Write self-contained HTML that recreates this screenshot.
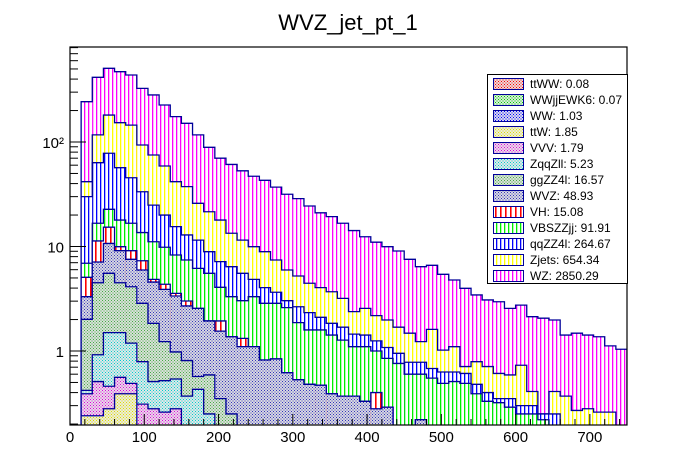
<!DOCTYPE html>
<html><head><meta charset="utf-8"><style>
html,body{margin:0;padding:0;background:#fff;}
svg{display:block;font-family:"Liberation Sans",Arial,sans-serif;}
</style></head><body>
<svg id="c" width="696" height="472" viewBox="0 0 696 472" xmlns="http://www.w3.org/2000/svg">
<defs>
<pattern id="pWZ" patternUnits="userSpaceOnUse" width="4" height="4"><rect width="4" height="4" fill="#fff"/><rect x="0" width="1.3" height="4" fill="#ff00ff"/></pattern>
<pattern id="pZj" patternUnits="userSpaceOnUse" width="4" height="4"><rect width="4" height="4" fill="#fff"/><rect x="0" width="1.3" height="4" fill="#ffff00"/></pattern>
<pattern id="pqq" patternUnits="userSpaceOnUse" width="4" height="4"><rect width="4" height="4" fill="#fff"/><rect x="0" width="1.3" height="4" fill="#0000ff"/></pattern>
<pattern id="pVBS" patternUnits="userSpaceOnUse" width="4" height="4"><rect width="4" height="4" fill="#fff"/><rect x="0" width="1.3" height="4" fill="#00ee00"/></pattern>
<pattern id="pVH" patternUnits="userSpaceOnUse" width="5" height="4"><rect width="5" height="4" fill="#fff"/><rect x="0" width="1.6" height="4" fill="#ff0000"/></pattern>
<pattern id="cWVZ" patternUnits="userSpaceOnUse" width="3" height="3"><rect width="3" height="3" fill="#d8d8e0"/><rect width="1" height="1" fill="#3333bb"/><rect x="1.5" y="1.5" width="1" height="1" fill="#3333bb"/></pattern>
<pattern id="cgg" patternUnits="userSpaceOnUse" width="3" height="3"><rect width="3" height="3" fill="#d8e0d8"/><rect width="1" height="1" fill="#44aa44"/><rect x="1.5" y="1.5" width="1" height="1" fill="#44aa44"/></pattern>
<pattern id="cZqq" patternUnits="userSpaceOnUse" width="3" height="3"><rect width="3" height="3" fill="#e0e8e8"/><rect width="1" height="1" fill="#00cccc"/><rect x="1.5" y="1.5" width="1" height="1" fill="#00cccc"/></pattern>
<pattern id="cVVV" patternUnits="userSpaceOnUse" width="3" height="3"><rect width="3" height="3" fill="#e8dce8"/><rect width="1" height="1" fill="#dd00dd"/><rect x="1.5" y="1.5" width="1" height="1" fill="#dd00dd"/></pattern>
<pattern id="cttW" patternUnits="userSpaceOnUse" width="3" height="3"><rect width="3" height="3" fill="#ececd8"/><rect width="1" height="1" fill="#dddd00"/><rect x="1.5" y="1.5" width="1" height="1" fill="#dddd00"/></pattern>
<pattern id="cWW" patternUnits="userSpaceOnUse" width="3" height="3"><rect width="3" height="3" fill="#d8d8ec"/><rect width="1" height="1" fill="#0000ff"/><rect x="1.5" y="1.5" width="1" height="1" fill="#0000ff"/></pattern>
<pattern id="cWWjj" patternUnits="userSpaceOnUse" width="3" height="3"><rect width="3" height="3" fill="#d8ecd8"/><rect width="1" height="1" fill="#00cc00"/><rect x="1.5" y="1.5" width="1" height="1" fill="#00cc00"/></pattern>
<pattern id="cttWW" patternUnits="userSpaceOnUse" width="3" height="3"><rect width="3" height="3" fill="#ecd8d8"/><rect width="1" height="1" fill="#ff0000"/><rect x="1.5" y="1.5" width="1" height="1" fill="#ff0000"/></pattern>
<clipPath id="plotClip"><rect x="70" y="47" width="557" height="378"/></clipPath>
</defs>
<text x="348" y="30" font-size="22" text-anchor="middle">WVZ_jet_pt_1</text>
<g id="bars" clip-path="url(#plotClip)"></g>
<rect x="70" y="47" width="557" height="378" fill="none" stroke="#000" stroke-width="1.2"/>
<g id="axes"></g>
<g id="legend"></g>
</svg>
<script>
const binWidth = 15;
const binStart = 15;
const nBins = 49;
// stacked totals (top of each layer), per 15 GeV bin
const topWZ = [243,416,507,471,438,326,282,226,175,151,117,89,70,61,53,47,43,37,31.6,28.7,24.4,21,19.3,16.7,14.2,12.4,11.0,9.96,9.06,7.54,6.41,6.61,5.42,4.78,3.98,3.44,3.08,2.96,2.56,2.75,2.13,2.06,1.98,1.42,1.48,1.42,1.37,1.12,1.04];
const topZjets = [41.7,117,181,153,145,93.6,75.1,58.9,41.7,37.4,25.9,21.5,17.9,13.4,11.5,9.96,8.92,7.43,5.96,5.22,4.45,4.04,3.69,3.19,2.38,2.56,2.18,1.98,1.69,1.48,1.23,1.61,1.02,1.10,0.71,0.79,0.71,0.61,0.59,0.73,0.41,0.25,0.41,0.37,0.27,0.28,0.26,0.26,0];
const topQqZZ = [30.0,63.4,78,56.8,45.5,33.4,24.9,20.0,15.5,12.9,11.5,8.92,7.16,6.41,5.54,4.85,4.04,3.65,3.03,2.65,2.33,2.10,1.84,1.69,1.45,1.42,1.25,1.08,0.95,0.78,0.78,0.68,0.63,0.63,0.61,0.48,0.40,0.35,0.35,0.30,0.30,0.25,0.25,0,0,0,0,0,0];
const topVBS = [6.91,16.7,22.7,17.9,16.7,13.6,11.1,9.83,8.29,7.43,6.18,5.54,4.07,3.31,3.03,3.31,2.86,2.86,2.60,1.87,1.59,1.59,1.42,1.27,1.10,1.10,1.0,0.85,0.76,0.60,0.60,0.55,0.49,0.51,0.49,0.39,0.33,0.32,0.29,0.25,0.25,0.22,0,0,0,0,0,0,0];
const topVH = [5.07,11.3,15.3,9.96,9.12,7.31,4.85,4.35,3.56,3.01,2.56,1.94,1.94,1.37,1.32,1.10,0.82,0.84,0.62,0.53,0.48,0.47,0.39,0.37,0.37,0.33,0.40,0.29,0,0,0.22,0,0,0,0,0,0,0,0,0,0,0,0,0,0,0,0,0,0];
const topWVZ = [3.31,7.11,10.7,9.12,7.54,5.96,4.57,3.89,3.36,2.70,2.56,1.94,1.55,1.37,1.10,1.10,0.82,0.84,0.62,0.53,0.48,0.47,0.39,0.37,0.37,0.33,0.28,0.29,0,0,0.22,0,0,0,0,0,0,0,0,0,0,0,0,0,0,0,0,0,0];
const topGgZZ = [2.01,4.5,5.54,4.5,4.12,2.86,1.84,1.23,0.98,0.81,0.57,0.59,0.35,0.25];
const topZqqZll = [0.42,0.92,1.50,1.50,1.19,0.79,0.51,0.52,0.54,0.37,0.43,0.25];
const topVVV = [0.39,0.51,0.46,0.56,0.49,0.31,0.28,0.26,0.28];
const topTtW = [0.24,0.24,0.28,0.39,0.39];
const xTicks = [0,100,200,300,400,500,600,700];
const yTickLabels = ["1","10","10²"];
const yTickValues = [1,10,100];
const legendLabels = ["ttWW: 0.08","WWjjEWK6: 0.07","WW: 1.03","ttW: 1.85","VVV: 1.79","ZqqZll: 5.23","ggZZ4l: 16.57","WVZ: 48.93","VH: 15.08","VBSZZjj: 91.91","qqZZ4l: 264.67","Zjets: 654.34","WZ: 2850.29"];
const legendFills = ["cttWW","cWWjj","cWW","cttW","cVVV","cZqq","cgg","cWVZ","pVH","pVBS","pqq","pZj","pWZ"];

const NS = "http://www.w3.org/2000/svg";
const X0 = 70, XPX = 557/750, YB = 425, YT = 47, Y1 = 351, DEC = 104.5;
function xs(v){ return X0 + v*XPX; }
function ys(v){ return v > 0 ? Y1 - DEC*Math.log10(v) : YB + 5; }
function mk(tag, attrs, parent){ const e=document.createElementNS(NS,tag); for(const k in attrs) e.setAttribute(k,attrs[k]); parent.appendChild(e); return e; }

const bars = document.getElementById('bars');
const layers = [
  ["wz", topWZ, "pWZ"],["zjets", topZjets, "pZj"],["qqzz4l", topQqZZ, "pqq"],["vbszzjj", topVBS, "pVBS"],
  ["vh", topVH, "pVH"],["wvz", topWVZ, "cWVZ"],["ggzz4l", topGgZZ, "cgg"],["zqqzll", topZqqZll, "cZqq"],
  ["vvv", topVVV, "cVVV"],["ttw", topTtW, "cttW"]
];
layers.forEach(([name, arr, fill]) => {
  const g = mk('g', {}, bars);
  
  
  let d = "";
  for (let i = 0; i < nBins; i++) {
    const v = arr[i] || 0;
    const xa = xs(binStart + i*binWidth), xb = xs(binStart + (i+1)*binWidth);
    const y = ys(v);
    if (v > 0) {
      const r = mk('rect', {x: xa, y: y, width: xb-xa, height: Math.max(0, YB+5-y), fill: 'url(#' + fill + ')'}, g);
      
      
    }
    d += (i === 0 ? "M" + xa + "," + (YB+5) : "") + " L" + xa + "," + y + " L" + xb + "," + y;
  }
  d += " L" + xs(binStart + nBins*binWidth) + "," + (YB+5);
  const p = mk('path', {d: d, fill: 'none', stroke: '#000099', 'stroke-width': 1.3}, g);
  
  
});

const axes = document.getElementById('axes');
for (let v = 0; v <= 740; v += 20) {
  const major = v % 100 === 0;
  mk('line', {x1: xs(v), x2: xs(v), y1: YB, y2: YB - (major ? 11 : 6), stroke: '#000', 'stroke-width': 1}, axes);
}
xTicks.forEach(v => {
  const t = mk('text', {x: xs(v), y: 442, 'font-size': 15, 'text-anchor': 'middle'}, axes);
  t.textContent = v;
  
  
});
for (let dec = 0.1; dec < 1000; dec *= 10) {
  for (let m = 1; m <= 9; m++) {
    const v = dec*m, y = ys(v);
    if (y < YT || y > YB) continue;
    mk('line', {x1: X0, x2: X0 + (m === 1 ? 16 : 8), y1: y, y2: y, stroke: '#000', 'stroke-width': 1}, axes);
  }
}
yTickValues.forEach((v, i) => {
  const t = mk('text', {x: 64, y: ys(v) + 6, 'font-size': 15, 'text-anchor': 'end'}, axes);
  t.textContent = yTickLabels[i];
  
  
});

const leg = document.getElementById('legend');
mk('rect', {x: 487.5, y: 74.5, width: 140, height: 209, fill: '#fff', stroke: '#000', 'stroke-width': 1}, leg);
legendLabels.forEach((lab, i) => {
  const cy = 83.5 + i*16;
  const g = mk('g', {}, leg);
  
  
  mk('rect', {x: 493.5, y: cy - 5, width: 30, height: 11, fill: 'url(#' + legendFills[i] + ')', stroke: '#000099', 'stroke-width': 1}, g);
  const t = mk('text', {x: 530, y: cy + 4.5, 'font-size': 12}, g);
  t.textContent = lab;
});
</script>
</body></html>
